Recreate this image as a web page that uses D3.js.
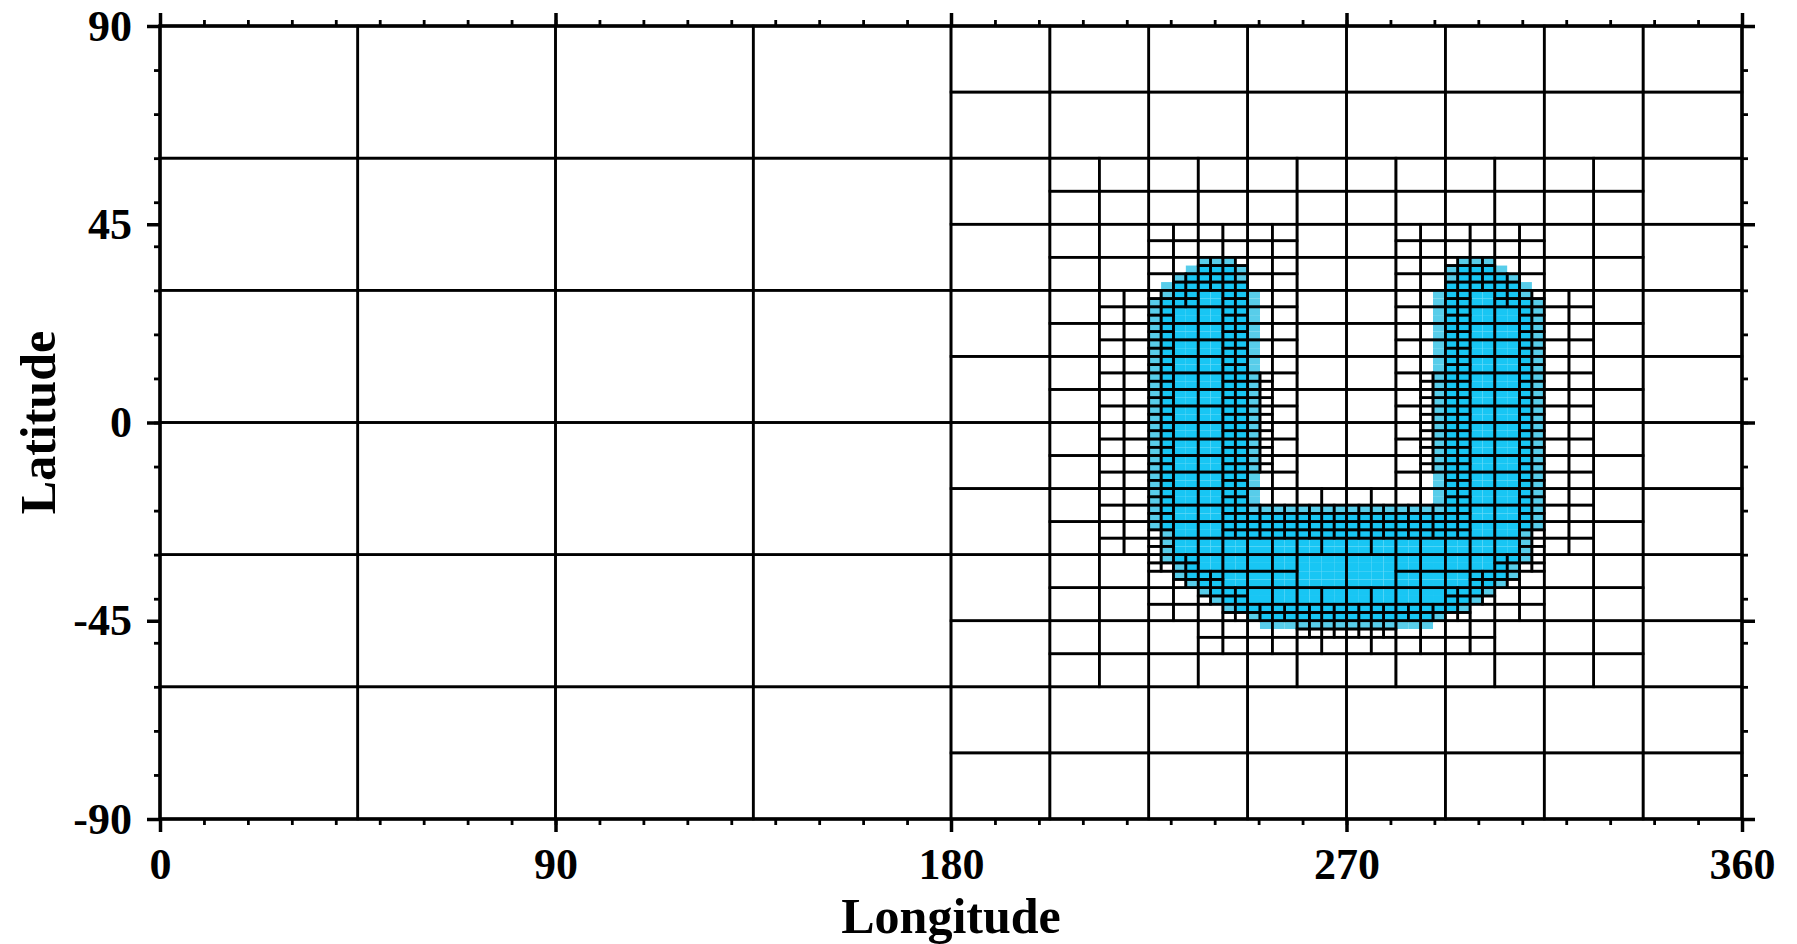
<!DOCTYPE html>
<html>
<head>
<meta charset="utf-8">
<script src="https://cdn.jsdelivr.net/npm/d3@7/dist/d3.min.js"></script>
<style>
  body { margin: 0; background: #fff; }
</style>
</head>
<body>
<svg width="1797" height="944"></svg>
<script>
// level 0 cells are 45 x 30 degrees, every level halves both sides
let lonDomain = [0, 360];
let latDomain = [-90, 90];
let baseCols = 8;
let baseRows = 6;

let lonTicks = [0, 90, 180, 270, 360];
let latTicks = [-90, -45, 0, 45, 90];

// refinement maps: "#" = cell split into four, rows run north to south
// origin = [column, row] of the first char at that level
let split0Origin = [0, 0];
let split0Rows = [
  "....####",
  "....####",
  "....####",
  "....####",
  "....####",
  "....####"
];

let split1Origin = [8, 0];
let split1Rows = [
  "........",
  "........",
  ".######.",
  ".######.",
  ".######.",
  ".######.",
  ".######.",
  ".######.",
  ".######.",
  ".######.",
  "........",
  "........"
];

let split2Origin = [18, 4];
let split2Rows = [
  "............",
  "............",
  "..###..###..",
  "..###..###..",
  ".####..####.",
  ".####..####.",
  ".####..####.",
  ".####..####.",
  ".####..####.",
  ".####..####.",
  ".##########.",
  ".##########.",
  "..###..###..",
  "..########..",
  "...######...",
  "............"
];

let split3Origin = [38, 12];
let split3Rows = [
  "....................",
  "....................",
  "....##........##....",
  "...###........###...",
  "..##.#........#.##..",
  "..#..#........#..#..",
  "..#..#........#..#..",
  "..#..#........#..#..",
  "..#..#........#..#..",
  "..#..##......##..#..",
  "..#..##......##..#..",
  "..#..##......##..#..",
  "..#..##......##..#..",
  "..#..##......##..#..",
  "..#..##......##..#..",
  "..#..#........#..#..",
  "..#..#........#..#..",
  "..#..##########..#..",
  "..#..##########..#..",
  "..#..............#..",
  "..##............##..",
  "...##..........##...",
  "....##........##....",
  ".....##########.....",
  "........####........",
  "....................",
  "....................",
  "...................."
];

// tracer on the level 4 grid: "#" = full, "+" = partial
let tracerOrigin = [78, 26];
let tracerRows = [
  "....................................",
  "....................................",
  "......+++..................+++......",
  ".....+###+................+###+.....",
  "....+####+................+####+....",
  "...+######................######+...",
  "...+######+..............+######+...",
  "..+#######+..............+#######+..",
  "..+#######+..............+#######+..",
  "..+#######+..............+#######+..",
  "..+#######+..............+#######+..",
  "..+#######+..............+#######+..",
  "..+#######+..............+#######+..",
  "..+#######+..............+#######+..",
  "..+#######+..............+#######+..",
  "..+#######+..............+#######+..",
  "..+#######+..............+#######+..",
  "..+#######+..............+#######+..",
  "..+#######+..............+#######+..",
  "..+#######+..............+#######+..",
  "..+#######+..............+#######+..",
  "..+#######+..............+#######+..",
  "..+#######+..............+#######+..",
  "..+#######+..............+#######+..",
  "..+#######+..............+#######+..",
  "..+#######+..............+#######+..",
  "..+#######+..............+#######+..",
  "..+#######+..............+#######+..",
  "..+#######+..............+#######+..",
  "..+#######+..............+#######+..",
  "..+#######+..............+#######+..",
  "..+#######+..............+#######+..",
  "..+#######++++++++++++++++#######+..",
  "..+##############################+..",
  "..+##############################+..",
  "...+############################+...",
  "...+############################+...",
  "...+############################+...",
  "...+############################+...",
  "....+##########################+....",
  "....+##########################+....",
  ".....+########################+.....",
  "......+######################+......",
  ".......+####################+.......",
  "........+##################+........",
  "..........+##############+..........",
  "...........++++++++++++++...........",
  "....................................",
  "....................................",
  "...................................."
];

let svg = d3.select("svg");
let x = d3.scaleLinear().domain(lonDomain).range([160, 1742]);
let y = d3.scaleLinear().domain(latDomain).range([819, 26]);

var toSet = function(origin, rows) {
  let s = new Set();
  rows.forEach(function(row, j) {
    for (let i = 0; i < row.length; i++) {
      if (row[i] === "#") s.add((origin[0] + i) + "," + (origin[1] + j));
    }
  });
  return s;
};

let splits = [
  toSet(split0Origin, split0Rows),
  toSet(split1Origin, split1Rows),
  toSet(split2Origin, split2Rows),
  toSet(split3Origin, split3Rows)
];

var box = function(level, c, r) {
  let dLon = 45 / Math.pow(2, level);
  let dLat = 30 / Math.pow(2, level);
  return { lon0: c * dLon, lon1: (c + 1) * dLon, lat1: 90 - r * dLat, lat0: 90 - (r + 1) * dLat };
};

let leaves = [];
var addCell = function(level, c, r) {
  if (level < splits.length && splits[level].has(c + "," + r)) {
    addCell(level + 1, 2 * c, 2 * r);
    addCell(level + 1, 2 * c + 1, 2 * r);
    addCell(level + 1, 2 * c, 2 * r + 1);
    addCell(level + 1, 2 * c + 1, 2 * r + 1);
  } else {
    leaves.push(box(level, c, r));
  }
};
for (let r = 0; r < baseRows; r++) {
  for (let c = 0; c < baseCols; c++) addCell(0, c, r);
}

let tracer = [];
tracerRows.forEach(function(row, j) {
  for (let i = 0; i < row.length; i++) {
    if (row[i] === "#" || row[i] === "+") {
      let b = box(4, tracerOrigin[0] + i, tracerOrigin[1] + j);
      b.v = row[i];
      tracer.push(b);
    }
  }
});

let plot = svg.append("g").attr("id", "mesh");

plot.append("g").selectAll("rect")
  .data(tracer)
  .join("rect")
  .attr("x", d => x(d.lon0))
  .attr("y", d => y(d.lat1))
  .attr("width", d => x(d.lon1) - x(d.lon0))
  .attr("height", d => y(d.lat0) - y(d.lat1))
  .attr("fill", d => d.v === "#" ? "#18c6f4" : "#58cdea");

plot.append("g").selectAll("rect")
  .data(leaves)
  .join("rect")
  .attr("x", d => x(d.lon0))
  .attr("y", d => y(d.lat1))
  .attr("width", d => x(d.lon1) - x(d.lon0))
  .attr("height", d => y(d.lat0) - y(d.lat1))
  .attr("fill", "none")
  .attr("stroke", "#000")
  .attr("stroke-width", 2.6);

svg.append("rect")
  .attr("x", x(0)).attr("y", y(90))
  .attr("width", x(360) - x(0)).attr("height", y(-90) - y(90))
  .attr("fill", "none").attr("stroke", "#000").attr("stroke-width", 3.5);

var styleAxis = function(g, w) {
  g.select(".domain").remove();
  g.selectAll(".tick line").attr("stroke", "#000").attr("stroke-width", w);
  g.selectAll("text")
    .attr("font-family", "'Liberation Serif', 'Times New Roman', serif")
    .attr("font-weight", "bold")
    .attr("font-size", 44)
    .attr("fill", "#000");
};

let noLabel = d => "";

// minor ticks every 10 degrees
svg.append("g").attr("transform", "translate(0," + y(-90) + ")")
  .call(d3.axisBottom(x).tickValues(x.ticks(36)).tickSize(6).tickFormat(noLabel)).call(styleAxis, 2.8);
svg.append("g").attr("transform", "translate(0," + y(90) + ")")
  .call(d3.axisTop(x).tickValues(x.ticks(36)).tickSize(6).tickFormat(noLabel)).call(styleAxis, 2.8);
svg.append("g").attr("transform", "translate(" + x(0) + ",0)")
  .call(d3.axisLeft(y).tickValues(y.ticks(18)).tickSize(6).tickFormat(noLabel)).call(styleAxis, 2.8);
svg.append("g").attr("transform", "translate(" + x(360) + ",0)")
  .call(d3.axisRight(y).tickValues(y.ticks(18)).tickSize(6).tickFormat(noLabel)).call(styleAxis, 2.8);

// major ticks and labels
svg.append("g").attr("transform", "translate(0," + y(-90) + ")")
  .call(d3.axisBottom(x).tickValues(lonTicks).tickSize(13).tickPadding(16).tickFormat(d => String(d))).call(styleAxis, 3.5);
svg.append("g").attr("transform", "translate(0," + y(90) + ")")
  .call(d3.axisTop(x).tickValues(lonTicks).tickSize(13).tickFormat(noLabel)).call(styleAxis, 3.5);
svg.append("g").attr("transform", "translate(" + x(0) + ",0)")
  .call(d3.axisLeft(y).tickValues(latTicks).tickSize(13).tickPadding(15).tickFormat(d => String(d))).call(styleAxis, 3.5);
svg.append("g").attr("transform", "translate(" + x(360) + ",0)")
  .call(d3.axisRight(y).tickValues(latTicks).tickSize(13).tickFormat(noLabel)).call(styleAxis, 3.5);

svg.append("text")
  .attr("x", (x(0) + x(360)) / 2)
  .attr("y", 933)
  .attr("text-anchor", "middle")
  .attr("font-family", "'Liberation Serif', 'Times New Roman', serif")
  .attr("font-weight", "bold")
  .attr("font-size", 50)
  .text("Longitude");

svg.append("text")
  .attr("transform", "translate(55," + y(0) + ") rotate(-90)")
  .attr("text-anchor", "middle")
  .attr("font-family", "'Liberation Serif', 'Times New Roman', serif")
  .attr("font-weight", "bold")
  .attr("font-size", 50)
  .text("Latitude");
</script>
</body>
</html>
